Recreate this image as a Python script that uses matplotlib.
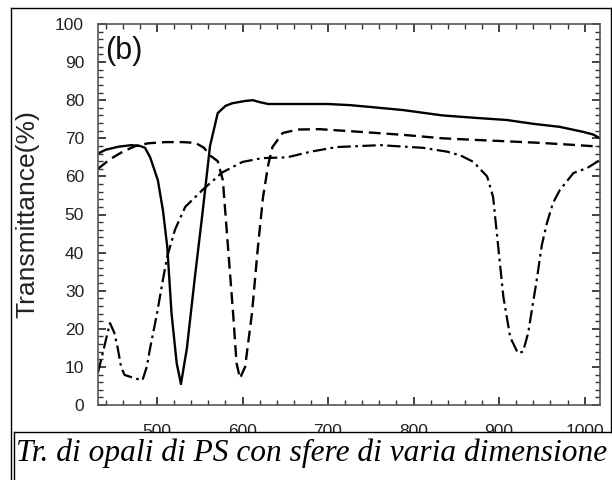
import matplotlib
matplotlib.use("Agg")
from matplotlib import pyplot as plt
from matplotlib.patches import Rectangle
from matplotlib.lines import Line2D
from matplotlib.ticker import MultipleLocator

# wavelength (nm) / transmittance (%)
solid_x = [431, 440, 455, 470, 480, 486, 492, 501, 507, 512, 517, 523, 528, 535, 544,
           553, 562, 571, 580, 588, 603, 612, 620, 630, 650, 671, 700, 726, 760, 788,
           834, 870, 909, 940, 971, 998, 1010, 1018]
solid_y = [66, 67, 67.8, 68.2, 68, 67.5, 65, 59, 51, 41.5, 24, 11, 5.5, 15, 33,
           50, 68, 76.6, 78.5, 79.2, 79.8, 80, 79.5, 79, 79, 79, 79, 78.7, 78, 77.4,
           76, 75.4, 74.8, 73.8, 73, 71.7, 71, 70]

dash_x = [431, 445, 460, 475, 490, 510, 530, 545, 555, 562, 571, 577, 583, 589, 593,
          597, 603, 611, 618, 624, 630, 635, 647, 665, 690, 737, 788, 834, 870, 910,
          948, 985, 1018]
dash_y = [62, 64.5, 66.5, 68, 68.7, 69, 69, 68.8, 67.5, 65.5, 64, 59, 41.5, 24, 11,
          7, 10, 24, 41.5, 54.6, 63, 67.7, 71.4, 72.3, 72.4, 71.7, 70.9, 70, 69.6, 69.2,
          68.8, 68.3, 67.8]

dd_x = [431, 438, 445, 450, 454, 458, 462, 474, 483, 488, 492, 500, 507, 512, 521,
        533, 553, 576, 600, 623, 652, 680, 710, 761, 811, 839, 855, 870, 886, 893,
        899, 905, 913, 922, 928, 934, 944, 950, 956, 963, 971, 987, 1003, 1018]
dd_y = [8.5, 15, 21.5, 19, 15, 10, 7.9, 7, 6.5, 10, 15, 24, 33, 39, 46,
        52, 56.4, 61, 63.8, 64.8, 65, 66.5, 67.7, 68.2, 67.5, 66.5, 65.5, 63.8, 60, 54.6,
        41.5, 28.4, 17.8, 13.6, 14, 18.9, 32.8, 42, 47.8, 53, 56.4, 60.9, 62.2, 64.3]

caption = "Tr. di opali di PS con sfere di varia dimensione"

W, H = 612, 480
fig = plt.figure(figsize=(W / 100, H / 100), dpi=100)
ax = fig.add_axes([98 / W, 1 - 405 / H, (600 - 98) / W, (405 - 24) / H])

ax.plot(solid_x, solid_y, color="black", lw=1.7, solid_joinstyle="round")
ax.plot(dash_x, dash_y, color="black", lw=1.7, dashes=[5, 2.5])
ax.plot(dd_x, dd_y, color="black", lw=1.6, dashes=[6, 2, 1.2, 2])

ax.set_xlim(431, 1018)
ax.set_ylim(0, 100)
ax.xaxis.set_major_locator(MultipleLocator(100))
ax.xaxis.set_minor_locator(MultipleLocator(20))
ax.yaxis.set_major_locator(MultipleLocator(10))
ax.yaxis.set_minor_locator(MultipleLocator(2))
ax.tick_params(axis="y", pad=10)
ax.tick_params(axis="x", pad=14)
ax.tick_params(which="both", direction="in", top=True, right=True, color="#333333")
ax.tick_params(which="major", length=6, width=1.3)
ax.tick_params(which="minor", length=3.5, width=1.0)
for lab in ax.get_xticklabels() + ax.get_yticklabels():
    lab.set_fontfamily("Liberation Sans")
    lab.set_fontsize(12.5)
    lab.set_color("#222222")
for s in ax.spines.values():
    s.set_color("#555555")
    s.set_linewidth(1.2)

ax.set_ylabel("Transmittance(%)", family="Liberation Sans", fontsize=19, color="#222222")
ax.yaxis.set_label_coords(-(98 - 39) / (600 - 98), 0.5)
ax.text(439, 93, "(b)", family="Liberation Sans", fontsize=22, va="center", ha="left",
        color="#111111")

# frame and caption box
def px(x, y):
    return x / W, 1 - y / H

fig.patches.append(Rectangle(px(14, 480), (611 - 14) / W, (480 - 432) / H,
                             transform=fig.transFigure, facecolor="white",
                             edgecolor="none", zorder=5))
frame = [((11, 11), (8, 480)), ((11, 611), (8, 8)), ((611, 611), (8, 432)),
         ((14, 611), (432, 432)), ((14, 14), (432, 480))]
for xs, ys in frame:
    fig.lines.append(Line2D([x / W for x in xs], [1 - y / H for y in ys],
                            transform=fig.transFigure, color="black", lw=1.0, zorder=6))

fig.text(312 / W, 1 - 453 / H, caption, family="Liberation Serif", style="italic",
         fontsize=22.6, ha="center", va="center", zorder=7)

fig.savefig("out.png", dpi=100)
